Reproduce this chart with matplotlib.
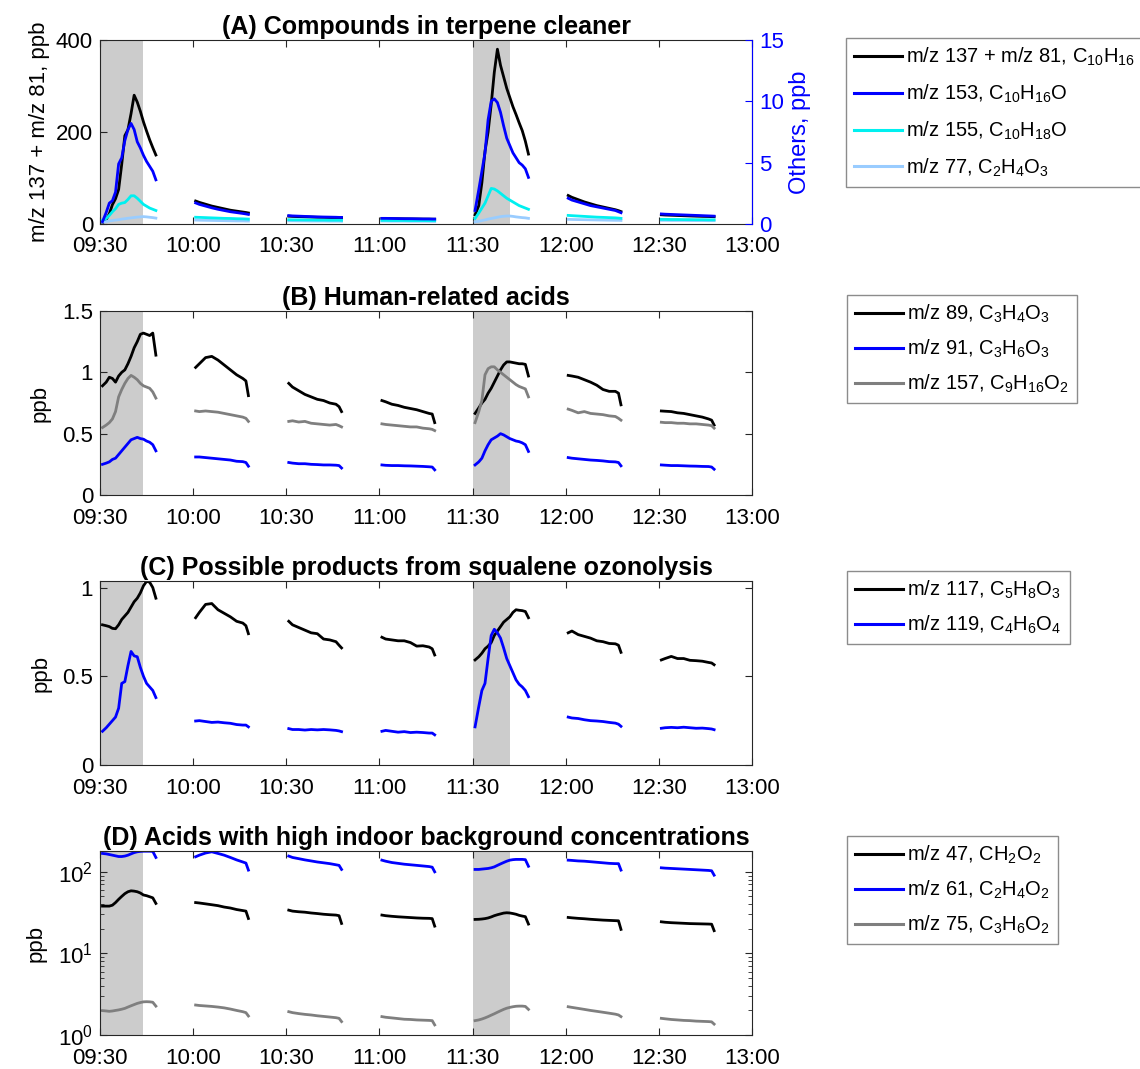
import numpy as np
import matplotlib
matplotlib.use("Agg")
import matplotlib.pyplot as plt
from matplotlib.ticker import FixedLocator, LogLocator, NullFormatter

plt.rcParams['font.family'] = ['Liberation Sans', 'DejaVu Sans']
plt.rcParams['mathtext.fontset'] = 'custom'
plt.rcParams['mathtext.rm'] = 'Liberation Sans'
plt.rcParams['mathtext.it'] = 'Liberation Sans'
plt.rcParams['mathtext.default'] = 'regular'

# ---------------- time axis (minutes after 09:30) ----------------
x_ticks = [0, 30, 60, 90, 120, 150, 180, 210]
x_labels = ['09:30', '10:00', '10:30', '11:00', '11:30', '12:00', '12:30', '13:00']
seg_bases = [0, 30, 60, 90, 120, 150, 180]
offs_fine = [0.8, 2, 3, 4, 5, 6, 7, 8, 9, 10, 11, 12, 13, 14, 15, 16, 17, 18]
offs_coarse = [0.8, 2, 4, 6, 8, 10, 12, 14, 16, 17, 17.8]
seg_offsets = [offs_fine, offs_coarse, offs_coarse, offs_coarse, offs_fine, offs_coarse, offs_coarse]
shade_spans = [(0, 13.8), (120, 132)]

# ---------------- (A) compounds in terpene cleaner ----------------
a_m137 = [
    [2, 10, 22, 42, 55, 75, 130, 192, 205, 240, 280, 265, 245, 222, 202, 183, 166, 150],
    [50, 47, 43, 39, 36, 33, 30, 28, 26, 25, 24],
    [17, 16.5, 16, 15.5, 15, 14.6, 14.3, 14, 13.7, 13.5, 13.4],
    [12, 11.8, 11.6, 11.4, 11.2, 11, 10.9, 10.7, 10.6, 10.5, 10.4],
    [20, 40, 90, 158, 200, 260, 330, 380, 345, 320, 295, 275, 255, 238, 220, 203, 180, 152],
    [62, 58, 53, 48, 44, 40, 37, 34, 31, 29, 27],
    [20, 19.5, 19, 18.5, 18, 17.5, 17, 16.6, 16.3, 16, 15.8],
]
a_m153 = [
    [0.19, 0.94, 1.7, 1.9, 2.6, 4.9, 5.4, 6.8, 7.7, 8.2, 7.7, 6.7, 6.2, 5.6, 5.1, 4.7, 4.3, 3.6],
    [1.72, 1.6, 1.46, 1.32, 1.2, 1.1, 1.0, 0.93, 0.86, 0.82, 0.78],
    [0.68, 0.66, 0.64, 0.62, 0.6, 0.58, 0.57, 0.56, 0.55, 0.54, 0.54],
    [0.46, 0.46, 0.45, 0.44, 0.43, 0.43, 0.42, 0.41, 0.41, 0.4, 0.4],
    [1.1, 2.8, 4.3, 5.8, 8.5, 10.0, 10.2, 9.9, 9.1, 8.0, 7.0, 6.4, 5.8, 5.4, 5.0, 4.8, 4.5, 3.8],
    [2.1, 1.95, 1.8, 1.65, 1.5, 1.4, 1.3, 1.2, 1.1, 1.0, 0.92],
    [0.82, 0.8, 0.78, 0.76, 0.74, 0.72, 0.7, 0.68, 0.66, 0.65, 0.64],
]
a_m155 = [
    [0.3, 0.45, 0.7, 1.0, 1.25, 1.6, 1.7, 1.75, 2.0, 2.3, 2.3, 2.1, 1.85, 1.6, 1.45, 1.3, 1.2, 1.1],
    [0.55, 0.54, 0.52, 0.5, 0.48, 0.46, 0.45, 0.43, 0.42, 0.41, 0.40],
    [0.35, 0.34, 0.34, 0.33, 0.33, 0.32, 0.32, 0.31, 0.31, 0.31, 0.3],
    [0.3, 0.3, 0.29, 0.29, 0.29, 0.28, 0.28, 0.28, 0.27, 0.27, 0.27],
    [0.45, 0.9, 1.3, 1.7, 2.3, 2.9, 2.85, 2.7, 2.5, 2.3, 2.1, 1.95, 1.8, 1.65, 1.5, 1.4, 1.3, 1.2],
    [0.7, 0.68, 0.65, 0.62, 0.59, 0.56, 0.54, 0.52, 0.5, 0.48, 0.46],
    [0.38, 0.38, 0.37, 0.37, 0.36, 0.36, 0.35, 0.35, 0.34, 0.34, 0.34],
]
a_m77 = [
    [0.15, 0.2, 0.25, 0.28, 0.32, 0.35, 0.4, 0.43, 0.47, 0.5, 0.53, 0.56, 0.58, 0.6, 0.58, 0.55, 0.52, 0.48],
    [0.32, 0.31, 0.3, 0.29, 0.28, 0.27, 0.26, 0.25, 0.25, 0.24, 0.24],
    [0.26, 0.26, 0.25, 0.25, 0.24, 0.24, 0.24, 0.23, 0.23, 0.23, 0.22],
    [0.24, 0.24, 0.23, 0.23, 0.23, 0.22, 0.22, 0.22, 0.22, 0.21, 0.21],
    [0.18, 0.22, 0.28, 0.33, 0.4, 0.45, 0.5, 0.55, 0.6, 0.63, 0.65, 0.65, 0.62, 0.58, 0.55, 0.52, 0.5, 0.46],
    [0.38, 0.37, 0.36, 0.35, 0.34, 0.33, 0.32, 0.31, 0.3, 0.3, 0.29],
    [0.3, 0.3, 0.29, 0.29, 0.29, 0.28, 0.28, 0.28, 0.27, 0.27, 0.27],
]

# ---------------- (B) human-related acids ----------------
b_m89 = [
    [0.89, 0.92, 0.96, 0.95, 0.92, 0.97, 1.0, 1.02, 1.07, 1.13, 1.2, 1.25, 1.31, 1.32, 1.31, 1.3, 1.32, 1.14],
    [1.04, 1.07, 1.12, 1.13, 1.1, 1.06, 1.02, 0.98, 0.95, 0.93, 0.81],
    [0.91, 0.88, 0.85, 0.82, 0.8, 0.78, 0.77, 0.75, 0.74, 0.72, 0.68],
    [0.77, 0.76, 0.74, 0.73, 0.715, 0.705, 0.695, 0.68, 0.665, 0.66, 0.59],
    [0.665, 0.71, 0.75, 0.78, 0.83, 0.87, 0.92, 0.97, 1.02, 1.06, 1.085, 1.085, 1.08, 1.075, 1.07, 1.07, 1.065, 0.97],
    [0.975, 0.97, 0.96, 0.94, 0.92, 0.895, 0.86, 0.845, 0.845, 0.83, 0.735],
    [0.685, 0.683, 0.68, 0.67, 0.665, 0.655, 0.645, 0.635, 0.62, 0.61, 0.57],
]
b_m91 = [
    [0.25, 0.26, 0.27, 0.29, 0.3, 0.33, 0.36, 0.39, 0.42, 0.45, 0.46, 0.47, 0.46, 0.455, 0.44, 0.43, 0.41, 0.36],
    [0.31, 0.31, 0.305, 0.3, 0.295, 0.29, 0.285, 0.275, 0.272, 0.265, 0.235],
    [0.265, 0.26, 0.255, 0.255, 0.25, 0.248, 0.245, 0.245, 0.243, 0.24, 0.22],
    [0.245, 0.242, 0.24, 0.24, 0.238, 0.237, 0.235, 0.233, 0.23, 0.228, 0.205],
    [0.245, 0.27, 0.3, 0.36, 0.41, 0.45, 0.465, 0.48, 0.5, 0.49, 0.475, 0.46, 0.45, 0.44, 0.435, 0.425, 0.41, 0.355],
    [0.305, 0.3, 0.295, 0.29, 0.285, 0.282, 0.278, 0.272, 0.27, 0.265, 0.238],
    [0.245, 0.243, 0.24, 0.24, 0.238, 0.236, 0.235, 0.233, 0.232, 0.228, 0.21],
]
b_m157 = [
    [0.55, 0.57, 0.59, 0.62, 0.68, 0.8, 0.86, 0.91, 0.95, 0.975, 0.96, 0.94, 0.91, 0.89, 0.88, 0.87, 0.84, 0.79],
    [0.685, 0.68, 0.685, 0.68, 0.675, 0.665, 0.655, 0.645, 0.635, 0.625, 0.6],
    [0.6, 0.605, 0.595, 0.6, 0.585, 0.58, 0.575, 0.57, 0.575, 0.565, 0.555],
    [0.58, 0.575, 0.57, 0.565, 0.56, 0.555, 0.555, 0.545, 0.54, 0.535, 0.525],
    [0.59, 0.68, 0.77, 0.98, 1.03, 1.045, 1.045, 1.02, 1.0, 0.98, 0.96, 0.94, 0.92, 0.9, 0.885, 0.875, 0.865, 0.8],
    [0.7, 0.69, 0.67, 0.68, 0.665, 0.66, 0.655, 0.645, 0.64, 0.625, 0.61],
    [0.593, 0.59, 0.59, 0.585, 0.585, 0.58, 0.58, 0.575, 0.57, 0.565, 0.545],
]

# ---------------- (C) squalene ozonolysis products ----------------
c_m117 = [
    [0.79, 0.785, 0.78, 0.77, 0.768, 0.79, 0.82, 0.84, 0.86, 0.89, 0.92, 0.94, 0.97, 1.01, 1.035, 1.03, 1.0, 0.94],
    [0.83, 0.86, 0.905, 0.91, 0.875, 0.855, 0.835, 0.81, 0.8, 0.785, 0.74],
    [0.81, 0.79, 0.775, 0.76, 0.745, 0.74, 0.71, 0.705, 0.695, 0.675, 0.66],
    [0.72, 0.71, 0.705, 0.7, 0.7, 0.69, 0.67, 0.672, 0.665, 0.655, 0.62],
    [0.592, 0.61, 0.63, 0.655, 0.67, 0.69, 0.73, 0.755, 0.78, 0.805, 0.82, 0.835, 0.86, 0.875, 0.872, 0.87, 0.865, 0.83],
    [0.745, 0.755, 0.735, 0.725, 0.715, 0.7, 0.695, 0.685, 0.683, 0.675, 0.635],
    [0.592, 0.6, 0.612, 0.6, 0.6, 0.59, 0.588, 0.585, 0.578, 0.575, 0.565],
]
c_m119 = [
    [0.19, 0.21, 0.23, 0.25, 0.27, 0.32, 0.46, 0.47, 0.56, 0.64, 0.615, 0.61, 0.55, 0.5, 0.46, 0.44, 0.42, 0.38],
    [0.248, 0.25, 0.245, 0.24, 0.242, 0.238, 0.235, 0.228, 0.225, 0.225, 0.215],
    [0.205, 0.2, 0.2, 0.197, 0.2, 0.198, 0.2, 0.198, 0.195, 0.192, 0.188],
    [0.19, 0.195, 0.19, 0.185, 0.188, 0.183, 0.185, 0.183, 0.18, 0.18, 0.17],
    [0.215, 0.33, 0.42, 0.46, 0.6, 0.73, 0.765, 0.745, 0.715, 0.66, 0.6, 0.56, 0.52, 0.48, 0.455, 0.44, 0.42, 0.385],
    [0.27, 0.265, 0.262, 0.255, 0.25, 0.248, 0.245, 0.24, 0.236, 0.23, 0.218],
    [0.207, 0.21, 0.212, 0.21, 0.213, 0.21, 0.207, 0.208, 0.205, 0.203, 0.199],
]

# ---------------- (D) acids with high background ----------------
d_m47 = [
    [38, 38, 38, 39, 42, 46, 50, 54, 57, 58.5, 58, 57, 55, 52, 51, 49.5, 48, 41],
    [42, 41.5, 40.5, 39.5, 38.5, 37, 36, 34.5, 33.5, 33, 26.8],
    [33.9, 33, 32.4, 32, 31.3, 30.8, 30.2, 29.8, 29.5, 29, 23.3],
    [29.5, 29, 28.5, 28.1, 27.8, 27.5, 27.2, 27, 26.9, 26.7, 21.6],
    [26.1, 26.2, 26.4, 26.7, 27.2, 28, 29, 29.8, 30.5, 31.2, 31.5, 31.3, 30.8, 30.2, 29.3, 28.7, 28.2, 22.9],
    [27.6, 27.3, 26.9, 26.6, 26.2, 25.9, 25.6, 25.4, 25.2, 25.1, 19.7],
    [24.4, 24.1, 23.8, 23.6, 23.4, 23.2, 23.1, 23.0, 22.9, 22.8, 19],
]
d_m61 = [
    [168, 166, 163, 160, 157, 154, 154, 156, 160, 166, 172, 176, 178, 179, 179, 179, 178, 150],
    [153, 160, 170, 176, 168, 160, 150, 140, 132, 128, 105],
    [156, 150, 145, 140, 136, 132, 129, 126, 122, 120, 107],
    [139, 135, 130, 127, 124, 122, 120, 118, 116, 114, 100],
    [107, 107, 108, 109, 110, 112, 115, 120, 125, 130, 135, 139, 141, 142, 142, 142, 141, 117],
    [139, 138, 136, 135, 133, 131, 129, 127, 126, 126, 105],
    [112, 111, 110, 109, 108, 107, 106, 105, 104, 103, 91],
]
d_m75 = [
    [1.99, 1.97, 1.95, 1.97, 2.0, 2.03, 2.07, 2.12, 2.2, 2.28, 2.36, 2.44, 2.5, 2.55, 2.56, 2.55, 2.52, 2.26],
    [2.33, 2.3, 2.27, 2.24, 2.2, 2.15, 2.08, 2.0, 1.93, 1.88, 1.71],
    [1.93, 1.88, 1.83, 1.79, 1.76, 1.72, 1.69, 1.66, 1.63, 1.6, 1.46],
    [1.68, 1.65, 1.62, 1.59, 1.56, 1.55, 1.53, 1.52, 1.51, 1.5, 1.33],
    [1.5, 1.53, 1.57, 1.62, 1.68, 1.75, 1.82, 1.9, 1.98, 2.06, 2.13, 2.18, 2.22, 2.25, 2.26, 2.26, 2.24, 2.06],
    [2.22, 2.18, 2.12, 2.06, 2.0, 1.95, 1.9, 1.85, 1.8, 1.76, 1.68],
    [1.6, 1.58, 1.55, 1.53, 1.51, 1.5, 1.48, 1.47, 1.46, 1.45, 1.36],
]

# ---------------- labels / colours ----------------
BLACK = '#000000'
BLUE = '#0000ff'
CYAN = '#00f0f0'
LBLUE = '#99ccff'
GRAY = '#7f7f7f'
SHADE = '#cccccc'

lab_a = ['m/z 137 + m/z 81, C$_{10}$H$_{16}$', 'm/z 153, C$_{10}$H$_{16}$O',
         'm/z 155, C$_{10}$H$_{18}$O', 'm/z 77, C$_{2}$H$_{4}$O$_{3}$']
lab_b = ['m/z 89, C$_{3}$H$_{4}$O$_{3}$', 'm/z 91, C$_{3}$H$_{6}$O$_{3}$',
         'm/z 157, C$_{9}$H$_{16}$O$_{2}$']
lab_c = ['m/z 117, C$_{5}$H$_{8}$O$_{3}$', 'm/z 119, C$_{4}$H$_{6}$O$_{4}$']
lab_d = ['m/z 47, CH$_{2}$O$_{2}$', 'm/z 61, C$_{2}$H$_{4}$O$_{2}$',
         'm/z 75, C$_{3}$H$_{6}$O$_{2}$']
titles = ['(A) Compounds in terpene cleaner', '(B) Human-related acids',
          '(C) Possible products from squalene ozonolysis',
          '(D) Acids with high indoor background concentrations']

FS = 16        # tick / axis labels
FS_T = 18      # titles
FS_L = 14.5    # legend
LW = 2.0
W, H = 1140, 1069


def series_xy(segs):
    xs, ys = [], []
    for base, offs, vals in zip(seg_bases, seg_offsets, segs):
        xs.extend([base + o for o in offs] + [np.nan])
        ys.extend(list(vals) + [np.nan])
    return np.array(xs), np.array(ys)


def style_axis(ax, right=True):
    for s in ax.spines.values():
        s.set_color('#262626')
        s.set_linewidth(0.8)
    ax.tick_params(direction='in', length=5, width=0.8, labelsize=FS,
                   top=True, right=right, pad=5, colors='#262626', labelcolor='black')
    ax.tick_params(axis='x', pad=9)
    ax.tick_params(which='minor', direction='in', length=3, width=0.6,
                   top=False, right=right, colors='#262626')
    ax.set_xlim(0, 210)
    ax.set_xticks(x_ticks)
    ax.set_xticklabels(x_labels)
    for a, b in shade_spans:
        ax.axvspan(a, b, color=SHADE, lw=0, zorder=0)


def add_legend(fig, handles, labels, x_px, y_px, spacing):
    leg = fig.legend(handles, labels, loc='upper left',
                     bbox_to_anchor=(x_px / W, 1 - y_px / H),
                     bbox_transform=fig.transFigure, borderaxespad=0,
                     fontsize=FS_L, frameon=True, fancybox=False,
                     edgecolor='#8c8c8c', framealpha=1, handlelength=2.4,
                     handletextpad=0.2, borderpad=0.4, labelspacing=spacing)
    leg.get_frame().set_linewidth(1.0)
    for ln in leg.get_lines():
        ln.set_linewidth(2.2)
    return leg


fig = plt.figure(figsize=(W / 100, H / 100), dpi=100)
left, width, height = 100 / W, 652 / W, 184 / H
bottoms = [224, 495, 765, 1035]

# ---- A ----
axA = fig.add_axes([left, 1 - bottoms[0] / H, width, height])
style_axis(axA, right=False)
axA2 = axA.twinx()
for s in axA2.spines.values():
    s.set_visible(False)
axA2.spines['right'].set_visible(True)
axA2.spines['right'].set_color(BLUE)
axA2.spines['right'].set_linewidth(0.8)
x, y = series_xy(a_m137)
hA1, = axA.plot(x, y, color=BLACK, lw=LW, zorder=5)
x, y = series_xy(a_m77)
hA4, = axA2.plot(x, y, color=LBLUE, lw=LW)
x, y = series_xy(a_m155)
hA3, = axA2.plot(x, y, color=CYAN, lw=LW)
x, y = series_xy(a_m153)
hA2, = axA2.plot(x, y, color=BLUE, lw=LW)
axA.set_ylim(0, 400)
axA.set_yticks([0, 200, 400])
axA2.set_ylim(0, 15)
axA2.set_yticks([0, 5, 10, 15])
axA2.tick_params(direction='in', length=5, width=0.8, labelsize=FS, colors=BLUE, pad=5)
axA.set_ylabel('m/z 137 + m/z 81, ppb', fontsize=FS, labelpad=4)
axA2.set_ylabel('Others, ppb', fontsize=FS + 1, color=BLUE, labelpad=4)
axA.set_title(titles[0], fontsize=FS_T, fontweight='bold', pad=4)
add_legend(fig, [hA1, hA2, hA3, hA4], lab_a, 846, 38, 0.72)

# ---- B ----
axB = fig.add_axes([left, 1 - bottoms[1] / H, width, height])
style_axis(axB)
hB = []
for segs, col in [(b_m89, BLACK), (b_m91, BLUE), (b_m157, GRAY)]:
    x, y = series_xy(segs)
    h, = axB.plot(x, y, color=col, lw=LW)
    hB.append(h)
axB.set_ylim(0, 1.5)
axB.set_yticks([0, 0.5, 1, 1.5])
axB.set_yticklabels(['0', '0.5', '1', '1.5'])
axB.set_ylabel('ppb', fontsize=FS, labelpad=8)
axB.set_title(titles[1], fontsize=FS_T, fontweight='bold', pad=4)
add_legend(fig, hB, lab_b, 847, 295, 0.62)

# ---- C ----
axC = fig.add_axes([left, 1 - bottoms[2] / H, width, height])
style_axis(axC)
hC = []
for segs, col in [(c_m117, BLACK), (c_m119, BLUE)]:
    x, y = series_xy(segs)
    h, = axC.plot(x, y, color=col, lw=LW)
    hC.append(h)
axC.set_ylim(0, 1.037)
axC.set_yticks([0, 0.5, 1])
axC.set_yticklabels(['0', '0.5', '1'])
axC.set_ylabel('ppb', fontsize=FS, labelpad=8)
axC.set_title(titles[2], fontsize=FS_T, fontweight='bold', pad=4)
add_legend(fig, hC, lab_c, 847, 571, 0.62)

# ---- D ----
axD = fig.add_axes([left, 1 - bottoms[3] / H, width, height])
axD.set_yscale('log')
style_axis(axD)
hD = []
for segs, col in [(d_m47, BLACK), (d_m61, BLUE), (d_m75, GRAY)]:
    x, y = series_xy(segs)
    h, = axD.plot(x, y, color=col, lw=LW)
    hD.append(h)
axD.set_ylim(1, 180)
axD.yaxis.set_major_locator(FixedLocator([1, 10, 100]))
axD.set_yticklabels(['10$^{0}$', '10$^{1}$', '10$^{2}$'])
axD.yaxis.set_minor_locator(LogLocator(base=10, subs=np.arange(2, 10)))
axD.yaxis.set_minor_formatter(NullFormatter())
axD.set_ylabel('ppb', fontsize=FS, labelpad=8)
axD.set_title(titles[3], fontsize=FS_T, fontweight='bold', pad=4)
add_legend(fig, hD, lab_d, 847, 836, 0.62)

fig.savefig('out.png', dpi=100)
